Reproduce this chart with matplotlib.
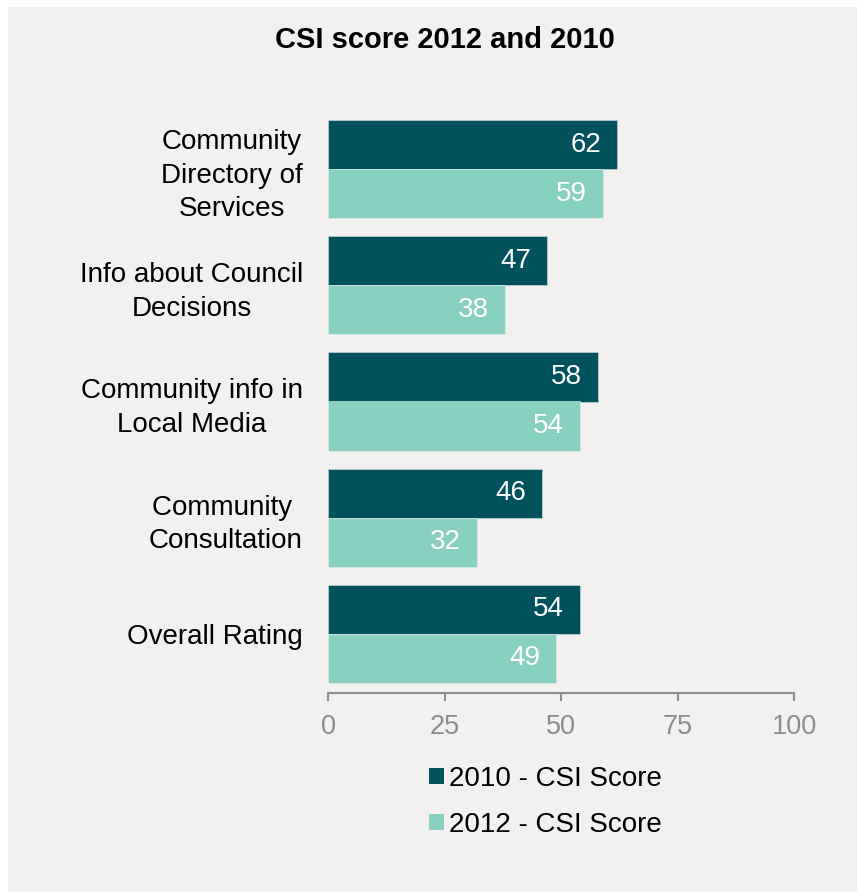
import matplotlib
matplotlib.use("Agg")
import matplotlib.pyplot as plt
from matplotlib.patches import Rectangle, Patch
import numpy as np

plt.rcParams['font.family'] = ['Liberation Sans', 'DejaVu Sans']

categories = [
    "Community\nDirectory of\nServices",
    "Info about Council\nDecisions",
    "Community info in\nLocal Media",
    "Community \nConsultation",
    "Overall Rating",
]
scores_2010 = [62, 47, 58, 46, 54]
scores_2012 = [59, 38, 54, 32, 49]
series_names = ["2010 - CSI Score", "2012 - CSI Score"]
x_ticks = [0, 25, 50, 75, 100]

dark = "#01525D"
light = "#88D1C1"
bg = "#F2F1EF"

W, H = 857, 892
fig = plt.figure(figsize=(W / 100, H / 100), dpi=100)
fig.patch.set_facecolor("white")
fig.patches.append(Rectangle((8 / W, 0), 1 - 8 / W, 1 - 7 / H,
                             transform=fig.transFigure, facecolor=bg,
                             edgecolor="none", zorder=-10))

ax = fig.add_axes([328 / W, 1 - 693 / H, (794 - 328) / W, (693 - 110) / H])
ax.set_facecolor("none")

y = np.arange(len(categories))
h = 49 / 116
b1 = ax.barh(y - h / 2, scores_2010, height=h, color=dark,
             edgecolor="#cfe0e0", linewidth=0.4, label=series_names[0])
b2 = ax.barh(y + h / 2, scores_2012, height=h, color=light,
             edgecolor="#e6efec", linewidth=0.4, label=series_names[1])

for bars, vals in ((b1, scores_2010), (b2, scores_2012)):
    for rect, v in zip(bars, vals):
        ax.annotate(f"{v}", xy=(v, rect.get_y() + rect.get_height() / 2),
                    xytext=(-11.5, 0), textcoords="offset points",
                    ha="right", va="center", color="white", fontsize=20)

ax.set_xlim(0, 100)
ax.set_ylim(len(categories) - 0.5 + 0.0086, -0.5 - 0.0086)
ax.set_xticks(x_ticks)
ax.set_xticklabels([str(t) for t in x_ticks])
ax.set_yticks(y)
ax.set_yticklabels(categories, multialignment="center", ha="right")
for t in ax.get_yticklabels():
    t.set_linespacing(1.38)

for s in ("top", "right", "left"):
    ax.spines[s].set_visible(False)
ax.spines["bottom"].set_color("#8C8C8C")
ax.spines["bottom"].set_linewidth(1.5)

ax.tick_params(axis="x", colors="#8C8C8C", length=6, width=1.5,
               labelsize=19.5, pad=9, labelcolor="#8C8C8C")
ax.tick_params(axis="y", length=0, pad=18, labelsize=20, labelcolor="black")

fig.text(445 / W, 1 - 48 / H, "CSI score 2012 and 2010", ha="center",
         va="baseline", fontsize=21, fontweight="bold", color="black")

handles = [Patch(facecolor=dark), Patch(facecolor=light)]
leg = fig.legend(handles, series_names, loc="upper left",
                 bbox_to_anchor=(429 / W, 1 - 766 / H), frameon=False,
                 fontsize=20, handlelength=0.53, handleheight=0.53,
                 handletextpad=0.2, labelspacing=0.72, borderpad=0,
                 borderaxespad=0)

fig.savefig("out.png", dpi=100, facecolor=fig.get_facecolor())
